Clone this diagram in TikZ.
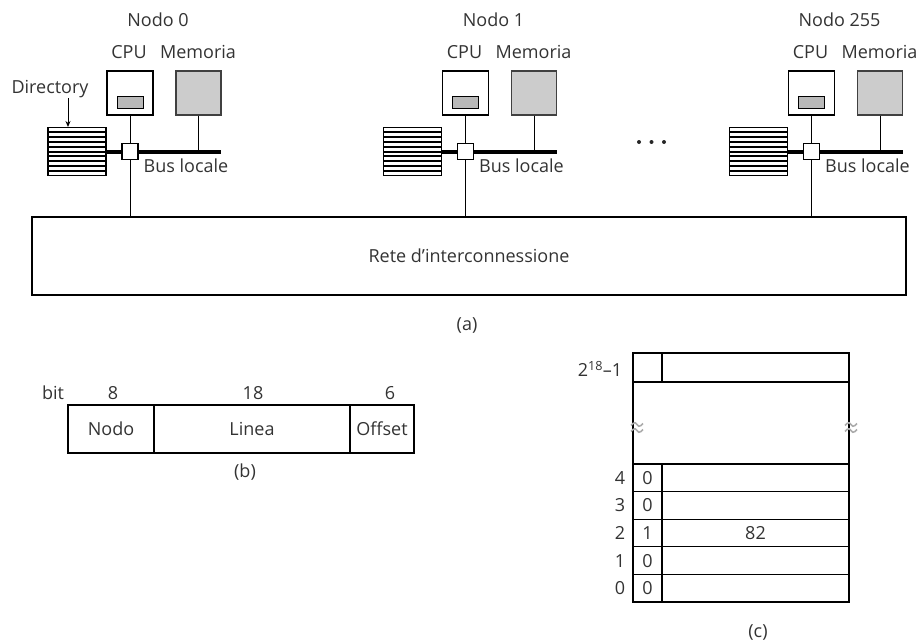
\documentclass[tikz,border=0pt]{standalone}
\usepackage{fontspec}
\setmainfont{Open Sans}
\usetikzlibrary{arrows.meta}
\begin{document}
\begin{tikzpicture}[x=1pt,y=-1pt,
  font=\fontsize{18}{20}\selectfont,
  every node/.style={text=black!80},
  lbl/.style={inner sep=0pt},
  cpubox/.style={draw, line width=1.1pt, fill=white, minimum width=46pt, minimum height=44pt, inner sep=0pt},
  membox/.style={draw=black!75, line width=1.1pt, fill=gray!40, minimum width=45pt, minimum height=44pt, inner sep=0pt},
  cachebox/.style={draw, line width=1pt, fill=gray!55, minimum width=26pt, minimum height=12pt, inner sep=0pt},
  switchbox/.style={draw, line width=1.1pt, fill=white, minimum size=16pt, inner sep=0pt},
  dirbox/.style={draw, line width=1.4pt, minimum width=58pt, minimum height=48pt, inner sep=0pt},
  stripe/.style={line width=2pt},
  bus/.style={line width=4pt},
  wire/.style={line width=1pt},
  dot/.style={circle, fill=black!85, minimum size=4pt, inner sep=0pt},
  field/.style={draw, line width=1.1pt, minimum height=48pt, inner sep=0pt},
  cell/.style={draw, line width=1.1pt, minimum height=27.6pt, inner sep=0pt},
  brkline/.style={draw=gray!65, line width=1.6pt},
  arrowline/.style={line width=0.9pt, -{Stealth[length=6pt,width=5pt]}}
]
\useasboundingbox (0,0) rectangle (919,640);

% interconnection network
\node[draw, line width=1.1pt, minimum width=874pt, minimum height=78pt, inner sep=0pt] (net) at (469,256) {Rete d’interconnessione};
\node[lbl] (capa) at (467,325) {(a)};

% nodes
\foreach \cx/\i/\t in {130/a/0, 465.5/b/1, 811.5/c/255}{
  \node[dirbox] (dir\i) at (\cx-53,151.5) {};
  \foreach \k in {1,...,9}{
    \draw[stripe] (\cx-82,127.5+4.8*\k) -- (\cx-24,127.5+4.8*\k);
  }
  \node[cpubox] (cpu\i) at (\cx,93) {};
  \node[cachebox] (cache\i) at (\cx,102.5) {};
  \node[membox] (mem\i) at (\cx+68.5,93) {};
  \coordinate (be\i) at (\cx+91,151.5);
  \draw[bus] (dir\i.east) -- (be\i);
  \node[switchbox] (sw\i) at (\cx,151.5) {};
  \draw[wire] (mem\i.south) -- (mem\i.south |- be\i);
  \draw[wire] (cpu\i.south) -- (sw\i.north);
  \draw[wire] (sw\i.south) -- (sw\i.south |- net.north);
  \node[lbl] (nodo\i) at (\cx+28,20) {Nodo \t};
  \node[lbl] (cpul\i) at (\cx-1,52) {CPU};
  \node[lbl] (meml\i) at (\cx+68,52) {Memoria};
  \node[lbl] (busl\i) at (\cx+56,166) {Bus locale};
}

\node[lbl] (dirlbl) at (50,89) {Directory};
\coordinate (dtip) at (68,127);
\draw[arrowline] (dirlbl.south -| dtip) -- (dtip);

\node[dot] (d1) at (639,142) {};
\node[dot] (d2) at (651.5,142) {};
\node[dot] (d3) at (664,142) {};

% (b) address format
\node[lbl] (bitl) at (53,393) {bit};
\node[lbl] (b8) at (113,393) {8};
\node[lbl] (b18) at (253,393) {18};
\node[lbl] (b6) at (390,393) {6};
\node[field, minimum width=86pt] (fn) at (111,429) {Nodo};
\node[field, minimum width=196pt] (fl) at (252,429) {Linea};
\node[field, minimum width=64pt] (fo) at (382,429) {Offset};
\node[lbl] (capb) at (245,472) {(b)};

% (c) directory table
\node[cell, minimum width=29pt, minimum height=29pt] (tb) at (647.5,367.5) {};
\node[cell, minimum width=187pt, minimum height=29pt] (tv) at (755.5,367.5) {};
\node[draw, line width=1.1pt, minimum width=216pt, minimum height=82pt, inner sep=0pt] (gap) at (741,423) {};
\node[lbl] (toplbl) at (600,369) {2\textsuperscript{18}–1};
\foreach \bx in {637,851}{
  \foreach \by in {424.5,430.5}{
    \draw[brkline] (\bx-6,\by+1) .. controls (\bx-3,\by-3) and (\bx,\by-2) .. (\bx,\by)
                   .. controls (\bx,\by+2) and (\bx+3,\by+3) .. (\bx+6,\by-1);
  }
}
\foreach \k/\b/\v in {4/0/, 3/0/, 2/1/82, 1/0/, 0/0/}{
  \node[cell, minimum width=29pt] (rb\k) at (647.5,477.8+27.6*4-27.6*\k) {\b};
  \node[cell, minimum width=187pt] (rv\k) at (755.5,477.8+27.6*4-27.6*\k) {\v};
  \node[lbl] (ri\k) at (620,477.8+27.6*4-27.6*\k) {\k};
}
\node[lbl] (capc) at (758,632) {(c)};
\end{tikzpicture}
\end{document}
